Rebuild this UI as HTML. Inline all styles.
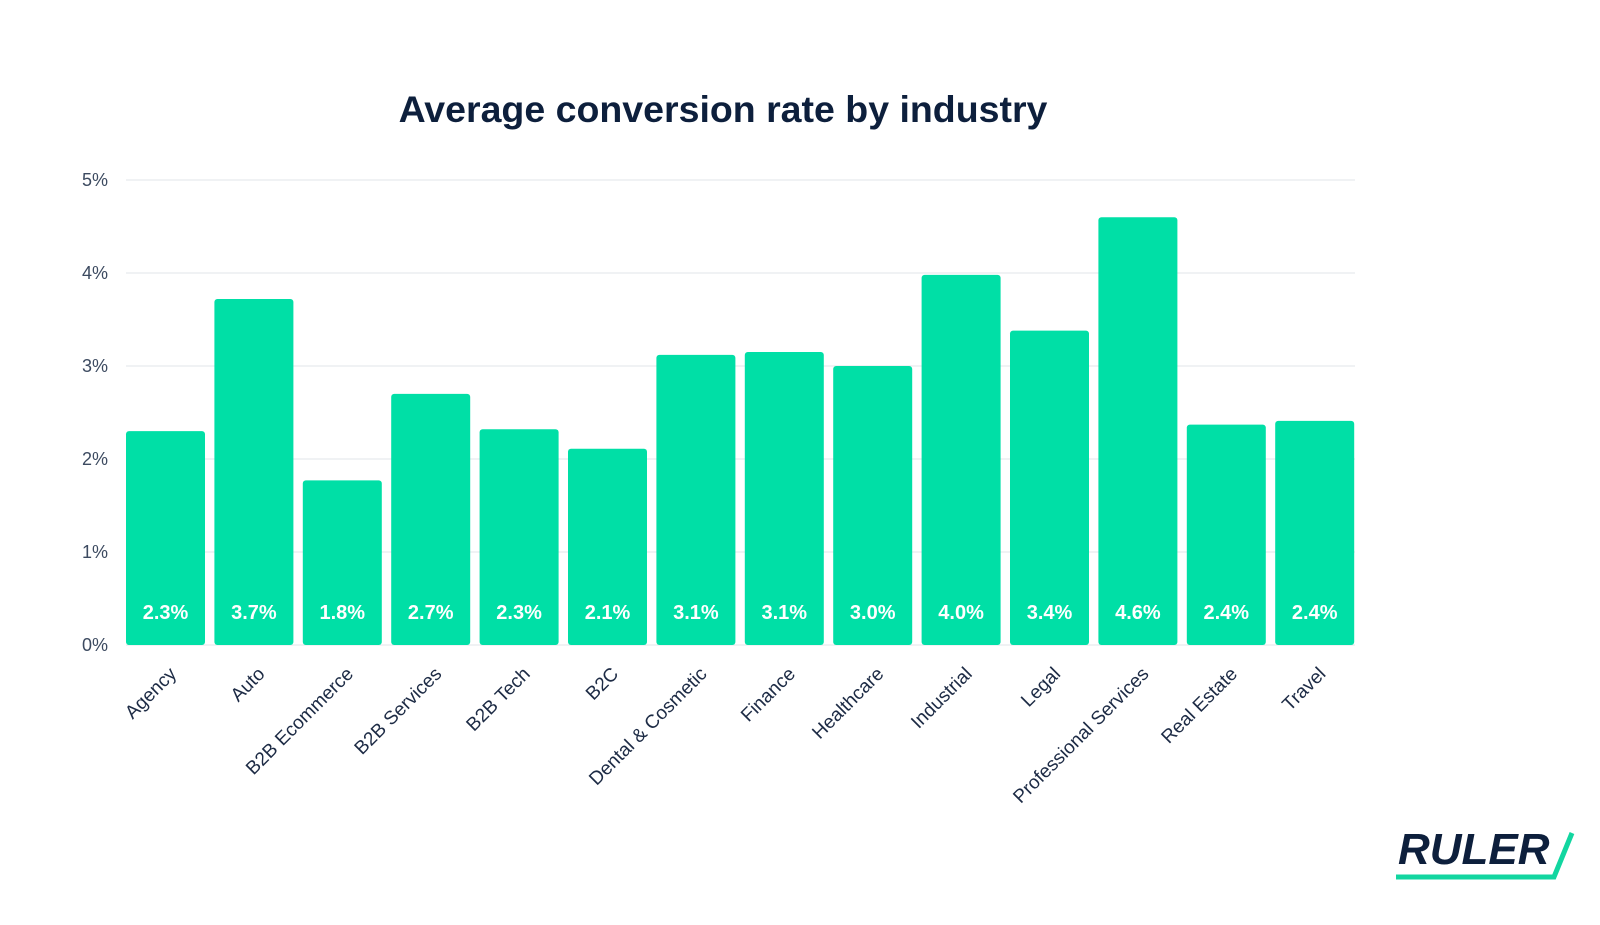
<!DOCTYPE html>
<html><head><meta charset="utf-8"><style>
body{margin:0;background:#fff;width:1600px;height:920px;overflow:hidden;font-family:"Liberation Sans",sans-serif}
</style></head><body>
<svg width="1600" height="920">
<text x="723" y="122" text-anchor="middle" font-size="37.5" font-weight="bold" fill="#0d1f3c">Average conversion rate by industry</text>
<g id="grid"></g><g id="bars"></g><g id="xl"></g>
<g>
<text x="1398" y="864" font-size="44" font-weight="bold" font-style="italic" fill="#0d1f3c">RULER</text>
<polyline points="1396,877 1554,877 1572,833" fill="none" stroke="#12d6a0" stroke-width="5"/>
</g>
</svg>
<script>
const categories=["Agency","Auto","B2B Ecommerce","B2B Services","B2B Tech","B2C","Dental & Cosmetic","Finance","Healthcare","Industrial","Legal","Professional Services","Real Estate","Travel"];
const values=[2.3,3.72,1.77,2.7,2.32,2.11,3.12,3.15,3.0,3.98,3.38,4.6,2.37,2.41];
const labels=["2.3%","3.7%","1.8%","2.7%","2.3%","2.1%","3.1%","3.1%","3.0%","4.0%","3.4%","4.6%","2.4%","2.4%"];
const ticks=[0,1,2,3,4,5];
const NS="http://www.w3.org/2000/svg";
const y0=645,pxPer=93,x0=126,slot=88.4,bw=79;
const y=v=>y0-v*pxPer, x=i=>x0+i*slot;
function mk(t,a,p){const e=document.createElementNS(NS,t);for(const k in a)e.setAttribute(k,a[k]);p.appendChild(e);return e;}
const g=document.getElementById('grid'),b=document.getElementById('bars'),xl=document.getElementById('xl');
ticks.forEach(t=>{
 const l=mk('line',{x1:x0,x2:1355,y1:y(t),y2:y(t),stroke:'#eceef1','stroke-width':1.5},g);
 
 
 const tx=mk('text',{x:108,y:y(t)+6,'text-anchor':'end','font-size':18,fill:'#3c4a60'},g);
 tx.textContent=t+'%';
 
 
});
values.forEach((v,i)=>{
 const r=mk('rect',{x:x(i),y:y(v),width:bw,height:v*pxPer,rx:3,fill:'#00dfa6'},b);
 
 
 const vt=mk('text',{x:x(i)+bw/2,y:619,'text-anchor':'middle','font-size':20,'font-weight':'bold',fill:'#fff'},b);
 vt.textContent=labels[i];
 
 
 const cx=x(i)+bw/2+12;
 const ct=mk('text',{x:cx,y:675,'text-anchor':'end','font-size':19,fill:'#1d2b45',transform:`rotate(-45 ${cx} 675)`},xl);
 ct.textContent=categories[i];
 
 
});
</script>
</body></html>
